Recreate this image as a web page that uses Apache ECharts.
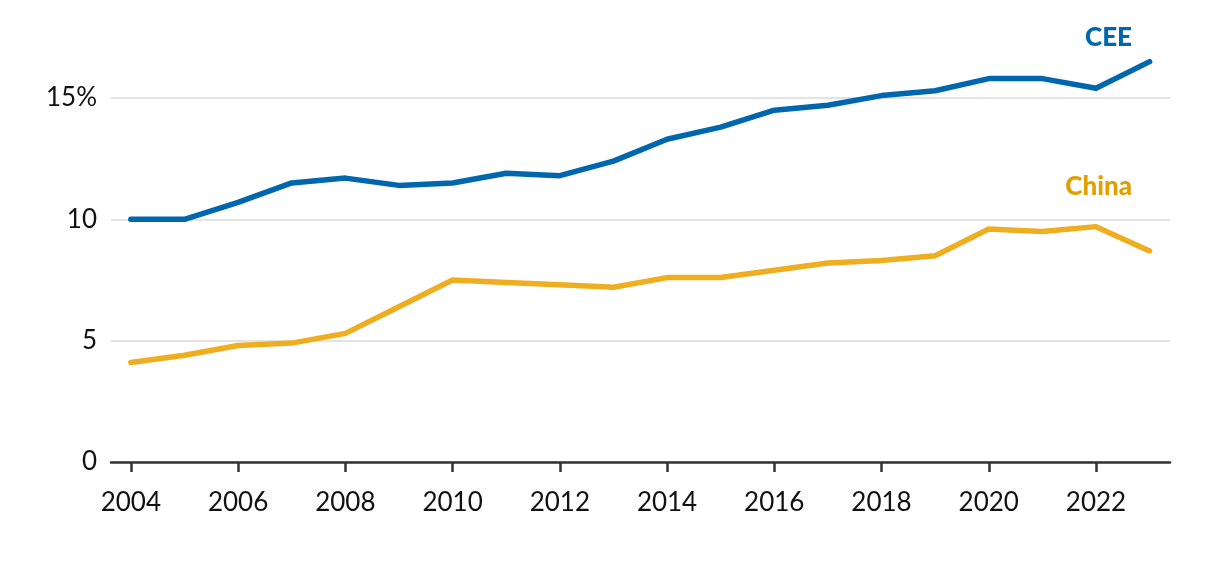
<!DOCTYPE html>
<html><head><meta charset="utf-8">
<script src="https://cdn.jsdelivr.net/npm/echarts@6/dist/echarts.min.js"></script>
<style>html,body{margin:0;padding:0;background:#fff}#c{width:1220px;height:570px}</style>
</head><body><div id="c"></div>
<script>
const years = [2004,2005,2006,2007,2008,2009,2010,2011,2012,2013,2014,2015,2016,2017,2018,2019,2020,2021,2022,2023];
const cee   = [10.0,10.0,10.7,11.5,11.7,11.4,11.5,11.9,11.8,12.4,13.3,13.8,14.5,14.7,15.1,15.3,15.8,15.8,15.4,16.5];
const china = [4.1,4.4,4.8,4.9,5.3,6.4,7.5,7.4,7.3,7.2,7.6,7.6,7.9,8.2,8.3,8.5,9.6,9.5,9.7,8.7];
const xTicks = [2004,2006,2008,2010,2012,2014,2016,2018,2020,2022];
const yTicks = [0,5,10,15];

const FONT = 'Lato, "Noto Sans", sans-serif';
const chart = echarts.init(document.getElementById('c'), null, {renderer:'canvas'});
chart.setOption({
  animation:false,
  grid:{left:111, right:50, top:49.5, bottom:108, containLabel:false},
  xAxis:{type:'value', min:2003.63, max:2023.38,
    axisLine:{show:true, lineStyle:{color:'#333', width:2.5}},
    axisTick:{show:true, customValues:xTicks, length:10, lineStyle:{color:'#333', width:2.5}},
    axisLabel:{customValues:xTicks, color:'#111', fontSize:26, fontFamily:FONT, margin:28, formatter:v=>String(v)},
    splitLine:{show:false}},
  yAxis:{type:'value', min:0, max:17, interval:5,
    axisLine:{show:false}, axisTick:{show:false},
    axisLabel:{customValues:yTicks, color:'#111', fontSize:26, fontFamily:FONT, margin:14, formatter:v=>v===15?'15%':String(v)},
    splitLine:{show:true, showMaxLine:false, lineStyle:{color:'#e3e3e3', width:2}}},
  series:[
    {name:'CEE', type:'line', data:years.map((y,i)=>[y,cee[i]]), symbol:'none',
     lineStyle:{color:'#0066ae', width:5.5, cap:'round', join:'round'}},
    {name:'China', type:'line', data:years.map((y,i)=>[y,china[i]]), symbol:'none',
     lineStyle:{color:'#eeae1f', width:5.5, cap:'round', join:'round'}}
  ],
  graphic:[
    {type:'text', right:88, top:25, style:{text:'CEE', fill:'#0066ae', font:'900 26px '+FONT}},
    {type:'text', right:88, top:174, style:{text:'China', fill:'#e2a000', font:'900 26px '+FONT}}
  ]
});
</script></body></html>
